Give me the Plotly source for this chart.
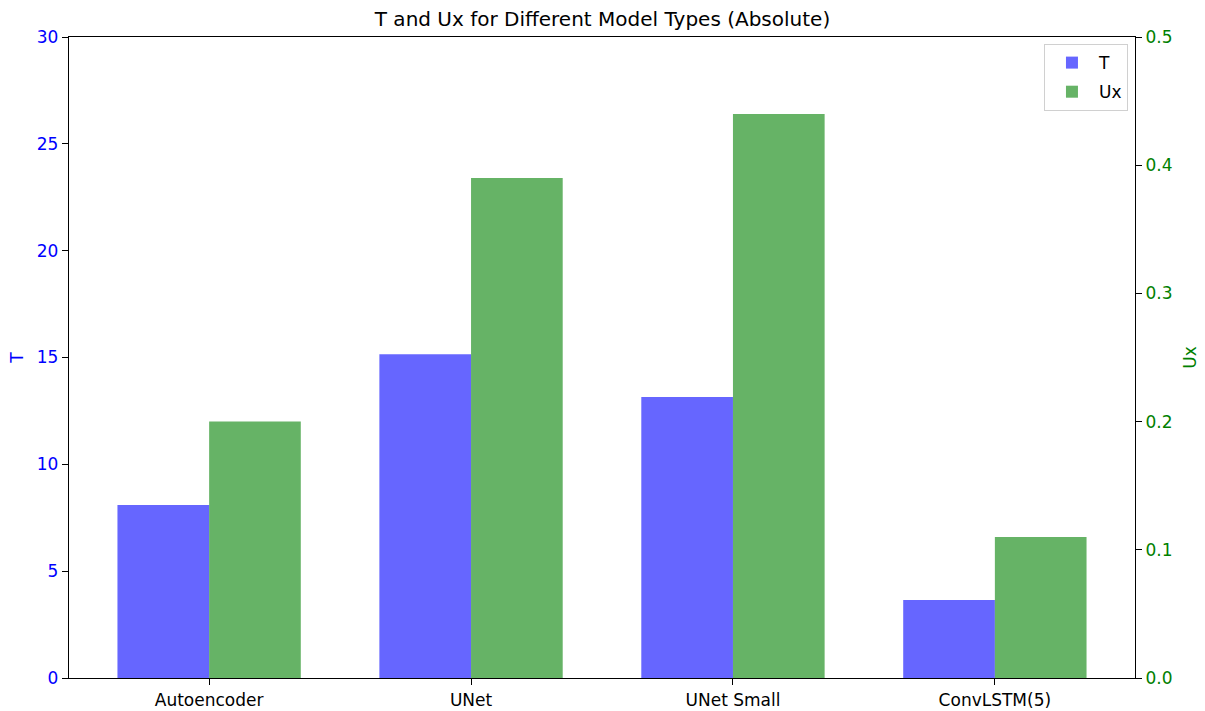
import plotly.graph_objects as go

categories = ["Autoencoder", "UNet", "UNet Small", "ConvLSTM(5)"]
t_values = [8.1, 15.15, 13.15, 3.65]
ux_values = [0.2, 0.39, 0.44, 0.11]
t_ticks = [0, 5, 10, 15, 20, 25, 30]
ux_ticks = [0.0, 0.1, 0.2, 0.3, 0.4, 0.5]

x = list(range(len(categories)))
bar_w = 0.35

fig = go.Figure()
fig.add_trace(go.Bar(x=x, y=t_values, name="T", width=bar_w, offset=-bar_w, legendgroup="t",
                     marker=dict(color="rgba(0,0,255,0.6)", line=dict(width=0)), yaxis="y"))
fig.add_trace(go.Bar(x=x, y=ux_values, name="Ux", width=bar_w, offset=0, legendgroup="ux",
                     marker=dict(color="rgba(0,128,0,0.6)", line=dict(width=0)), yaxis="y2"))

font = "DejaVu Sans"
fs = 17
fig.update_layout(
    width=1205, height=711,
    margin=dict(l=69, r=70, t=37, b=33, autoexpand=False),
    plot_bgcolor="white", paper_bgcolor="white",
    font=dict(family=font, size=fs, color="black"),
    title=dict(text="T and Ux for Different Model Types (Absolute)", x=0.5, xanchor="center",
               y=1 - 19 / 711, yanchor="middle", font=dict(size=20, family=font)),
    showlegend=True,
    legend=dict(x=0.9934, y=0.989, xanchor="right", yanchor="top",
                bordercolor="#d0d0d0", borderwidth=1, bgcolor="rgba(255,255,255,0.8)",
                font=dict(size=fs, family=font), tracegroupgap=4, itemwidth=44),
    xaxis=dict(range=[-0.535, 3.535], tickvals=x, ticktext=categories, showgrid=False,
               zeroline=False, showline=True, linecolor="black", linewidth=1.3, mirror=True,
               ticks="outside", ticklen=6, tickwidth=1.3, tickcolor="black",
               tickfont=dict(size=fs), automargin=False),
    yaxis=dict(range=[0, 30], tickvals=t_ticks, showgrid=False, zeroline=False,
               showline=True, linecolor="black", linewidth=1.3, ticks="outside", ticklen=6,
               tickwidth=1.3, tickcolor="black", tickfont=dict(color="blue", size=fs),
               automargin=False,
               title=dict(text="T", font=dict(color="blue", size=fs), standoff=8)),
    yaxis2=dict(range=[0, 0.5], tickvals=ux_ticks, tickformat=".1f", overlaying="y", side="right",
                showgrid=False, zeroline=False, showline=True, linecolor="black", linewidth=1.3,
                ticks="outside", ticklen=6, tickwidth=1.3, tickcolor="black", automargin=False,
                tickfont=dict(color="green", size=fs),
                title=dict(text="Ux", font=dict(color="green", size=fs), standoff=12)),
)

fig.write_html("out.html", config={"displayModeBar": False},
               post_script="document.body.style.margin='0';document.body.style.overflow='hidden';")
